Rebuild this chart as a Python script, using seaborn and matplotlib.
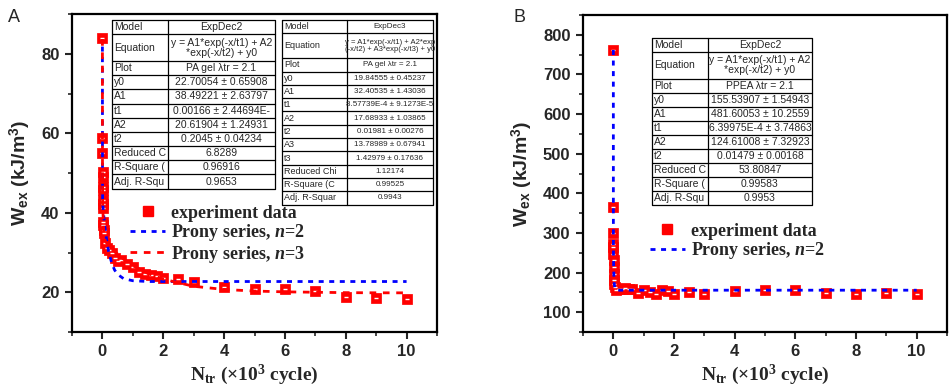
import numpy as np
import pandas as pd
import matplotlib
matplotlib.use("Agg")
import matplotlib.pyplot as plt
import seaborn as sns
from matplotlib.ticker import AutoMinorLocator, MultipleLocator
from matplotlib.transforms import Affine2D
from matplotlib.lines import Line2D

# ------------------- data -------------------
# panel A : PA gel
xA = [0, 0.001, 0.002, 0.003, 0.004, 0.005, 0.007, 0.01, 0.012, 0.015, 0.025, 0.03, 0.04, 0.06,
      0.1, 0.15, 0.2, 0.3, 0.4, 0.5, 0.6, 0.8, 1.0, 1.2, 1.4, 1.6, 1.8, 2.0, 2.5, 3, 4, 5, 6, 7, 8, 9, 10]
yA = [84.0, 58.7, 55.0, 50.3, 49.1, 46.5, 45.7, 43.2, 42.3, 41.1, 37.7, 36.9, 35.6, 34.8,
      32.3, 31.2, 30.6, 29.8, 28.6, 27.8, 28.0, 27.2, 26.4, 25.2, 24.7, 24.3, 24.0, 23.6, 23.3, 22.6,
      21.3, 20.9, 20.7, 20.3, 18.9, 18.6, 18.4]

xfitA = [0, 0.0005, 0.001, 0.002, 0.003, 0.005, 0.008, 0.01, 0.02, 0.03, 0.05, 0.1, 0.15, 0.2,
         0.3, 0.4, 0.5, 0.7, 1.0, 1.5, 2, 3, 4, 5, 6, 7, 8, 9, 10]
fitA_n2 = [81.8, 71.8, 64.3, 54.7, 49.3, 44.7, 42.8, 42.4, 41.4, 40.5, 38.8, 35.3, 32.6, 30.4,
           27.5, 25.6, 24.5, 23.4, 22.9, 22.7, 22.7, 22.7, 22.7, 22.7, 22.7, 22.7, 22.7, 22.7, 22.7]
fitA_n3 = [83.7, 69.0, 60.5, 52.8, 49.9, 47.6, 45.4, 44.2, 39.8, 37.3, 34.6, 32.8, 32.3, 31.8,
           31.0, 30.3, 29.6, 28.3, 26.7, 24.7, 23.3, 21.5, 20.7, 20.3, 20.1, 20.0, 19.9, 19.86, 19.85]

# panel B : PPEA
xB = [0, 0.001, 0.002, 0.003, 0.004, 0.005, 0.007, 0.01, 0.015, 0.02, 0.03, 0.05, 0.1, 0.2, 0.3,
      0.4, 0.5, 0.6, 0.8, 1.0, 1.2, 1.4, 1.6, 1.8, 2.0, 2.5, 3, 4, 5, 6, 7, 8, 9, 10]
yB = [761.5, 365, 300, 272, 264, 248, 231, 214, 197, 180, 170, 163, 157, 158, 159, 160, 158, 158,
      148, 157, 151, 147, 157, 154, 147, 151, 147, 153, 155, 155, 149, 147, 149, 147]

xfitB = [0, 0.0002, 0.0005, 0.001, 0.0015, 0.002, 0.003, 0.005, 0.008, 0.01, 0.02, 0.03, 0.05,
         0.08, 0.1, 0.2, 0.5, 1, 2, 3, 4, 5, 6, 7, 8, 9, 10]
fitB_n2 = [761.7, 630.7, 496, 373, 314.1, 285, 261, 244, 228.1, 219, 188, 172, 160,
           156.1, 155.6, 155.5, 155.5, 155.5, 155.5, 155.5, 155.5, 155.5, 155.5, 155.5, 155.5, 155.5, 155.5]

# fit report tables
tableA1 = [("Model", "ExpDec2"),
           ("Equation", "y = A1*exp(-x/t1) + A2\n*exp(-x/t2) + y0"),
           ("Plot", "PA gel λtr = 2.1"),
           ("y0", "22.70054 ± 0.65908"),
           ("A1", "38.49221 ± 2.63797"),
           ("t1", "0.00166 ± 2.44694E-"),
           ("A2", "20.61904 ± 1.24931"),
           ("t2", "0.2045 ± 0.04234"),
           ("Reduced C", "6.8289"),
           ("R-Square (", "0.96916"),
           ("Adj. R-Squ", "0.9653")]
tableA2 = [("Model", "ExpDec3"),
           ("Equation", "y = A1*exp(-x/t1) + A2*exp\n(-x/t2) + A3*exp(-x/t3) + y0"),
           ("Plot", "PA gel λtr = 2.1"),
           ("y0", "19.84555 ± 0.45237"),
           ("A1", "32.40535 ± 1.43036"),
           ("t1", "8.57739E-4 ± 9.1273E-5"),
           ("A2", "17.68933 ± 1.03865"),
           ("t2", "0.01981 ± 0.00276"),
           ("A3", "13.78989 ± 0.67941"),
           ("t3", "1.42979 ± 0.17636"),
           ("Reduced Chi", "1.12174"),
           ("R-Square (C", "0.99525"),
           ("Adj. R-Squar", "0.9943")]
tableB = [("Model", "ExpDec2"),
          ("Equation", "y = A1*exp(-x/t1) + A2\n*exp(-x/t2) + y0"),
          ("Plot", "PPEA λtr = 2.1"),
          ("y0", "155.53907 ± 1.54943"),
          ("A1", "481.60053 ± 10.2559"),
          ("t1", "6.39975E-4 ± 3.74863"),
          ("A2", "124.61008 ± 7.32923"),
          ("t2", "0.01479 ± 0.00168"),
          ("Reduced C", "53.80847"),
          ("R-Square (", "0.99583"),
          ("Adj. R-Squ", "0.9953")]

# ------------------- style -------------------
sns.set_style("ticks")
plt.rcParams['font.family'] = ['Liberation Sans', 'DejaVu Sans']
plt.rcParams['mathtext.fontset'] = 'custom'
plt.rcParams['mathtext.rm'] = 'Liberation Serif:bold'
plt.rcParams['mathtext.it'] = 'Liberation Serif:italic:bold'
plt.rcParams['mathtext.bf'] = 'Liberation Serif:bold'
plt.rcParams['mathtext.sf'] = 'Liberation Sans:bold'

W, H = 949, 392
fig = plt.figure(figsize=(W / 100, H / 100), dpi=100)
T = Affine2D().scale(1 / W, -1 / H).translate(0, 1) + fig.transFigure

dash_blue = (0, (1.8, 2.0))
dash_red = (0, (2.4, 2.4))
LW = 2.0


def make_axes(left, top, right, bottom):
    return fig.add_axes([left / W, 1 - bottom / H, (right - left) / W, (bottom - top) / H])


def style_axes(ax, ymajor):
    for s in ax.spines.values():
        s.set_linewidth(1.6)
        s.set_color('black')
    ax.xaxis.set_major_locator(MultipleLocator(2))
    ax.yaxis.set_major_locator(MultipleLocator(ymajor))
    ax.xaxis.set_minor_locator(AutoMinorLocator(2))
    ax.yaxis.set_minor_locator(AutoMinorLocator(2))
    ax.tick_params(which='major', length=5, width=1.5, labelsize=12, direction='out', pad=4)
    ax.tick_params(which='minor', length=3, width=1.2, direction='out')
    for lab in ax.get_xticklabels() + ax.get_yticklabels():
        lab.set_fontweight('bold')
    ax.set_xlabel(r"N$_{\mathrm{tr}}$ (×10$^{\mathrm{3}}$ cycle)", family='Liberation Serif',
                  fontweight='bold', fontsize=14, labelpad=2)
    ax.set_ylabel(r"W$_{\mathsf{ex}}$ (kJ/m$^{\mathsf{3}}$)", fontweight='bold', fontsize=14, labelpad=6)


def draw_table(rows, left, top, w1, w2, rh, eqh, fs_lab, fs_val, fs_eq):
    y = top
    right = left + w1 + w2
    heights = [eqh if lab == "Equation" else rh for lab, _ in rows]
    total = sum(heights)
    fig.add_artist(Line2D([left, right, right, left, left], [top, top, top + total, top + total, top],
                          transform=T, color='black', lw=0.9))
    fig.add_artist(Line2D([left + w1, left + w1], [top, top + total], transform=T, color='black', lw=0.9))
    for (lab, val), h in zip(rows, heights):
        fig.text(left + 2, y + h / 2, lab, transform=T, fontsize=fs_lab, va='center', ha='left')
        fig.text(left + w1 + w2 / 2, y + h / 2, val, transform=T,
                 fontsize=fs_eq if lab == "Equation" else fs_val,
                 va='center', ha='center', linespacing=1.0)
        y += h
        if y < top + total - 1:
            fig.add_artist(Line2D([left, right], [y, y], transform=T, color='black', lw=0.9))


# ------------------- panel A -------------------
axA = make_axes(72, 14, 437, 332)
sns.lineplot(x=xfitA, y=fitA_n2, ax=axA, color='#0000ff', linestyle=dash_blue, lw=LW, zorder=3)
sns.lineplot(x=xfitA, y=fitA_n3, ax=axA, color='#ff0000', linestyle=dash_red, lw=LW, zorder=3)
sns.scatterplot(x=xA, y=yA, ax=axA, marker='s', s=42, color='#ff0000', edgecolor='#ff0000', zorder=2)
axA.plot(xA, yA, ls='none', marker='_', ms=3, mew=1, color='white', zorder=2.5)
axA.set_xlim(-1, 11)
axA.set_ylim(10, 90)
style_axes(axA, 20)

hA = [Line2D([], [], ls='none', marker='s', ms=6.5, color='#ff0000'),
      Line2D([], [], color='#0000ff', linestyle=dash_blue, lw=LW),
      Line2D([], [], color='#ff0000', linestyle=dash_red, lw=LW)]
axA.legend(hA, ["experiment data", r"Prony series, $\mathit{n}$=2", r"Prony series, $\mathit{n}$=3"],
           loc='upper left', bbox_to_anchor=(0.16, 0.40), frameon=False, borderpad=0,
           borderaxespad=0, handlelength=1.9, handletextpad=0.35, labelspacing=0.02,
           prop={'family': 'Liberation Serif', 'weight': 'bold', 'size': 13})

# ------------------- panel B -------------------
axB = make_axes(583, 15, 947, 332)
sns.lineplot(x=xfitB, y=fitB_n2, ax=axB, color='#0000ff', linestyle=dash_blue, lw=LW, zorder=3)
sns.scatterplot(x=xB, y=yB, ax=axB, marker='s', s=42, color='#ff0000', edgecolor='#ff0000', zorder=2)
axB.plot(xB, yB, ls='none', marker='_', ms=3, mew=1, color='white', zorder=2.5)
axB.set_xlim(-1, 11)
axB.set_ylim(50, 850)
style_axes(axB, 100)

hB = [Line2D([], [], ls='none', marker='s', ms=6.5, color='#ff0000'),
      Line2D([], [], color='#0000ff', linestyle=dash_blue, lw=LW)]
axB.legend(hB, ["experiment data", r"Prony series, $\mathit{n}$=2"],
           loc='upper left', bbox_to_anchor=(0.185, 0.345), frameon=False, borderpad=0,
           borderaxespad=0, handlelength=1.9, handletextpad=0.35, labelspacing=0.02,
           prop={'family': 'Liberation Serif', 'weight': 'bold', 'size': 13})

# ------------------- tables -------------------
draw_table(tableA1, 112, 20, 56, 107, 14.2, 26.7, 7.5, 7.5, 7.5)
draw_table(tableA2, 282, 20, 65, 151 - 65, 13.3, 25.0, 6.5, 5.8, 5.5)
draw_table(tableB, 652, 38, 56, 104, 14.0, 26.7, 7.5, 7.5, 7.5)

# panel letters
fig.text(8, 18, "A", transform=T, fontsize=13, va='center', ha='left')
fig.text(514, 18, "B", transform=T, fontsize=13, va='center', ha='left')

fig.savefig("out.png", dpi=100)
